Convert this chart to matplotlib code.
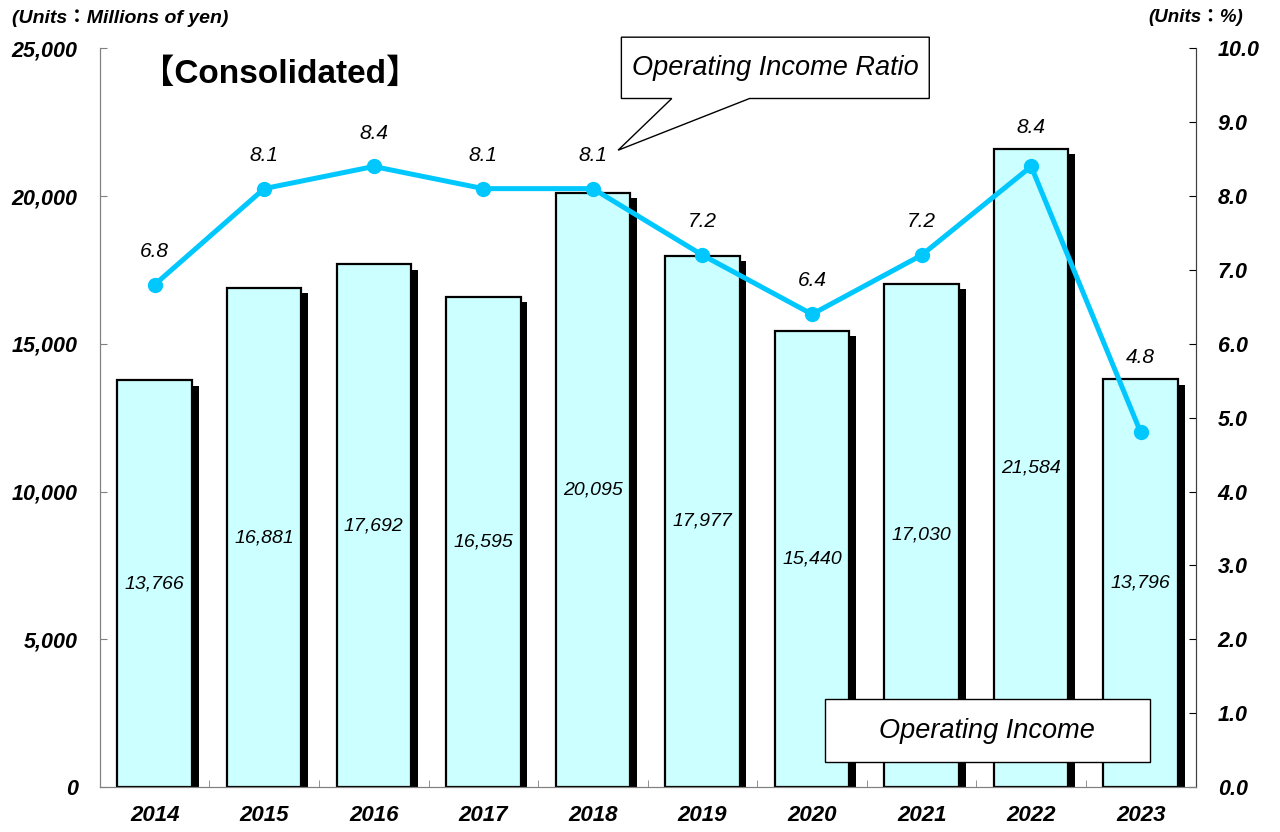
import matplotlib.pyplot as plt
import matplotlib.patheffects as pe
from matplotlib.patches import Polygon, Rectangle

years = ['2014', '2015', '2016', '2017', '2018', '2019', '2020', '2021', '2022', '2023']
operating_income = [13766, 16881, 17692, 16595, 20095, 17977, 15440, 17030, 21584, 13796]
income_ratio = [6.8, 8.1, 8.4, 8.1, 8.1, 7.2, 6.4, 7.2, 8.4, 4.8]

left_ticks = [0, 5000, 10000, 15000, 20000, 25000]
right_ticks = [0, 1, 2, 3, 4, 5, 6, 7, 8, 9, 10]

BAR_COLOR = '#ccffff'
LINE_COLOR = '#00c8ff'
FONT = ['Liberation Sans', 'Noto Sans CJK JP']

plt.rcParams['font.family'] = FONT

fig = plt.figure(figsize=(12.8, 8.32), dpi=100)
ax = fig.add_axes([0.078, 0.054, 0.856, 0.888])
ax2 = ax.twinx()

x = list(range(len(years)))

# bars with a black drop shadow
bars = ax.bar(x, operating_income, width=0.68, color=BAR_COLOR, edgecolor='black',
              linewidth=1.6, zorder=2)
for b in bars:
    b.set_path_effects([pe.SimplePatchShadow(offset=(4.8, -3.8), shadow_rgbFace='black', alpha=1.0),
                        pe.Normal()])

for xi, v in zip(x, operating_income):
    ax.text(xi, v / 2, f'{v:,}', ha='center', va='center', fontsize=14,
            fontstyle='italic', zorder=3)

ax.set_xlim(-0.5, len(years) - 0.5)
ax.set_ylim(0, 25000)
ax.set_yticks(left_ticks)
ax.set_yticklabels([f'{t:,}' for t in left_ticks], fontsize=15.5, fontweight='bold', fontstyle='italic')
ax.set_xticks(x)
ax.set_xticklabels(years, fontsize=16, fontweight='bold', fontstyle='italic')
ax.set_xticks([i + 0.5 for i in x[:-1]], minor=True)
ax.tick_params(axis='x', which='major', length=0, pad=13)
ax.tick_params(axis='x', which='minor', direction='in', length=5, color='#808080')
ax.tick_params(axis='y', direction='in', length=5, pad=16, color='#808080')

# operating income ratio line
ax2.plot(x, income_ratio, color=LINE_COLOR, linewidth=3.6, marker='o', markersize=10, zorder=4)
ax2.set_ylim(0, 10)
ax2.set_yticks(right_ticks)
ax2.set_yticklabels([f'{t:.1f}' for t in right_ticks], fontsize=15.5, fontweight='bold',
                    fontstyle='italic')
ax2.tick_params(axis='y', direction='in', length=5, pad=16)

for xi, r, v in zip(x, income_ratio, operating_income):
    ly = max(r + 0.45, v / 2500 + 0.30)
    ax2.text(xi, ly, f'{r:.1f}', ha='center', va='center', fontsize=15, fontstyle='italic')

for a in (ax, ax2):
    a.spines['top'].set_visible(False)
    a.spines['left'].set_color('#808080')
    a.spines['bottom'].set_color('#808080')
    a.spines['right'].set_color('#404040')

# callout for the ratio line
bx0, bx1, by0, by1 = 0.476, 0.757, 0.932, 1.015
callout = Polygon([(bx0, by1), (bx1, by1), (bx1, by0), (0.593, by0), (0.473, 0.862),
                   (0.522, by0), (bx0, by0)], closed=True, transform=ax2.transAxes,
                  facecolor='white', edgecolor='black', linewidth=1.0, clip_on=False, zorder=6)
ax2.add_patch(callout)
ax2.text((bx0 + bx1) / 2, (by0 + by1) / 2, 'Operating Income Ratio', transform=ax2.transAxes,
         ha='center', va='center', fontsize=19.5, fontstyle='italic', zorder=7)

# legend-like box for the bars
ax2.add_patch(Rectangle((0.662, 0.034), 0.296, 0.085, transform=ax2.transAxes,
                        facecolor='white', edgecolor='black', linewidth=1.0, zorder=6))
ax2.text(0.662 + 0.148, 0.034 + 0.0425, 'Operating Income', transform=ax2.transAxes,
         ha='center', va='center', fontsize=19.5, fontstyle='italic', zorder=7)

ax2.text(0.038, 0.965, '【Consolidated】', transform=ax2.transAxes, ha='left', va='center',
         fontsize=24, fontweight='bold', zorder=7)

fig.text(12 / 1280, 1 - 18 / 832, '(Units：Millions of yen)', ha='left', va='center',
         fontsize=14, fontweight='bold', fontstyle='italic')
fig.text(1148 / 1280, 1 - 18 / 832, '(Units：%)', ha='left', va='center',
         fontsize=13.5, fontweight='bold', fontstyle='italic')

plt.savefig('out.png', dpi=100)
